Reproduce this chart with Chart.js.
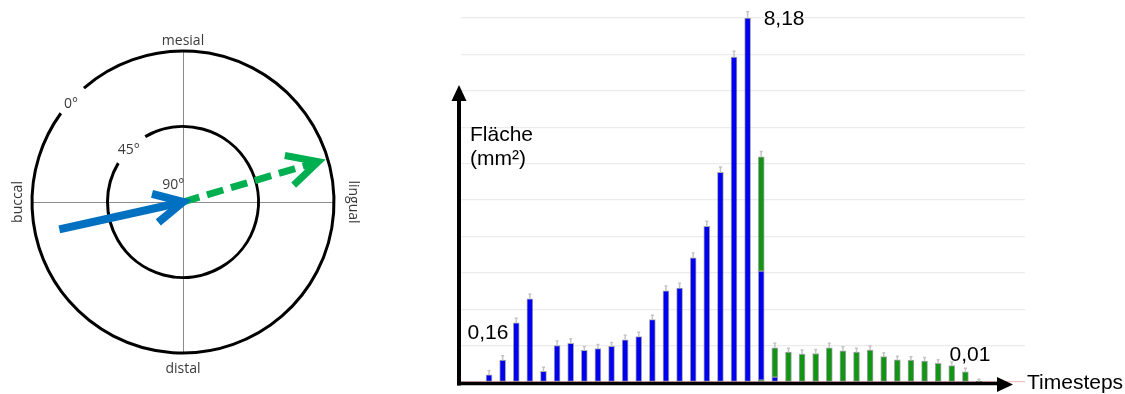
<!DOCTYPE html>
<html>
<head>
<meta charset="utf-8">
<script src="https://cdn.jsdelivr.net/npm/chart.js@4.4.1/dist/chart.umd.min.js"></script>
<style>
  html, body { margin: 0; padding: 0; background: #fff; }
  body { width: 1125px; height: 394px; position: relative; overflow: hidden; }
  #dial { position: absolute; left: 0; top: 0; }
  #area { position: absolute; left: 440px; top: 0; }
</style>
</head>
<body>
<canvas id="dial" width="380" height="394"></canvas>
<canvas id="area" width="685" height="394"></canvas>
<script>
// ---- contact area per timestep (mm²) ----
const timesteps     = [1, 2, 3, 4, 5, 6, 7, 8, 9, 10, 11, 12, 13, 14, 15, 16, 17, 18, 19, 20,
                       21, 22, 23, 24, 25, 26, 27, 28, 29, 30, 31, 32, 33, 34, 35, 36, 37];
const buccalArea    = [0.16, 0.49, 1.33, 1.87, 0.24, 0.82, 0.87, 0.71, 0.75, 0.80, 0.95, 1.02, 1.40, 2.05, 2.11, 2.79, 3.50, 4.71, 7.30, 8.18,
                       2.45, 0.11, 0, 0, 0, 0, 0, 0, 0, 0, 0, 0, 0, 0, 0, 0, 0];
const lingualBase   = [0, 0, 0, 0, 0, 0, 0, 0, 0, 0, 0, 0, 0, 0, 0, 0, 0, 0, 0, 0,
                       0.04, 0, 0, 0, 0, 0, 0, 0, 0, 0, 0, 0, 0, 0, 0, 0, 0];
const lingualArea   = [0, 0, 0, 0, 0, 0, 0, 0, 0, 0, 0, 0, 0, 0, 0, 0, 0, 0, 0, 0,
                       2.57, 0.66, 0.67, 0.63, 0.64, 0.77, 0.70, 0.67, 0.72, 0.57, 0.50, 0.49, 0.47, 0.42, 0.37, 0.23, 0.01];
const spread        = [0.10, 0.10, 0.10, 0.10, 0.09, 0.10, 0.10, 0.09, 0.09, 0.09, 0.10, 0.10, 0.10, 0.11, 0.11, 0.11, 0.11, 0.12, 0.13, 0.14,
                       0.12, 0.10, 0.09, 0.09, 0.09, 0.10, 0.09, 0.09, 0.09, 0.09, 0.08, 0.08, 0.08, 0.08, 0.08, 0.08, 0.05];
const labelledSteps = [1, 20, 37];
const yAxisTitle    = ['Fläche', '(mm²)'];
const xAxisTitle    = 'Timesteps';

// ---- loading direction dial ----
const buccalArrow    = [[-0.819, -0.181], [0, 0]];
const lingualArrow   = [[0, 0], [0.896, 0.267]];
const ringRadii      = [1, 0.5];
const ringGapsDeg    = [[216, 229], [211, 240]];
const angleTexts     = ['0°', '45°', '90°'];
const directionTexts = ['mesial', 'distal', 'buccal', 'lingual'];

const BLUE = '#0000f0';
const GREEN = '#129512';
const TEXT_FONT = '"Liberation Sans", Arial, sans-serif';
const DIAL_FONT = '"Open Sans", "DejaVu Sans", sans-serif';

// ================= bar chart =================
const stackTotal = i => (lingualBase[i] || 0) + (buccalArea[i] || 0) + (lingualArea[i] || 0);
const toPoints = arr => timesteps.map((t, i) => ({ x: t, y: arr[i] ? arr[i] : null }));
const fmt = v => v.toFixed(2).replace('.', ',');

const whiskerPlugin = {
  id: 'whiskers',
  afterDatasetsDraw(chart) {
    const { ctx, scales: { x, y } } = chart;
    ctx.save();
    ctx.strokeStyle = '#c4c4c4';
    ctx.lineWidth = 1.5;
    timesteps.forEach((t, i) => {
      const tot = stackTotal(i);
      const px = x.getPixelForValue(t);
      const y0 = y.getPixelForValue(tot);
      const y1 = y.getPixelForValue(tot + spread[i]);
      ctx.beginPath();
      ctx.moveTo(px, y0);
      ctx.lineTo(px, y1);
      ctx.moveTo(px - 1.5, y1);
      ctx.lineTo(px + 1.5, y1);
      ctx.stroke();
    });
    ctx.restore();
  }
};

const axesPlugin = {
  id: 'arrowAxes',
  afterDraw(chart) {
    const { ctx, chartArea: a, scales: { x, y } } = chart;
    ctx.save();
    ctx.fillStyle = '#000';
    ctx.strokeStyle = '#000';
    // vertical axis with arrow
    const ax = a.left - 2;
    ctx.lineWidth = 4;
    ctx.beginPath();
    ctx.moveTo(ax, a.bottom + 3.5);
    ctx.lineTo(ax, 99);
    ctx.stroke();
    ctx.beginPath();
    ctx.moveTo(ax, 85);
    ctx.lineTo(ax - 7.5, 101);
    ctx.lineTo(ax + 7.5, 101);
    ctx.closePath();
    ctx.fill();
    // horizontal axis with arrow
    const ay = a.bottom + 1.5;
    ctx.lineWidth = 3.5;
    ctx.beginPath();
    ctx.moveTo(ax - 2, ay);
    ctx.lineTo(558, ay);
    ctx.stroke();
    ctx.beginPath();
    ctx.moveTo(573, ay + 1);
    ctx.lineTo(557, ay - 6.5);
    ctx.lineTo(557, ay + 8.5);
    ctx.closePath();
    ctx.fill();

    // titles
    ctx.font = '21px ' + TEXT_FONT;
    ctx.textAlign = 'left';
    ctx.textBaseline = 'alphabetic';
    ctx.fillText(yAxisTitle[0], a.left + 9, 141);
    ctx.fillText(yAxisTitle[1], a.left + 9, 165);
    ctx.fillText(xAxisTitle, 587, 389);

    // value annotations
    const place = { 1: [-1, -42, 'center'], 20: [16, 1, 'left'], 37: [-9, -26, 'center'] };
    ctx.textBaseline = 'middle';
    labelledSteps.forEach(step => {
      const i = timesteps.indexOf(step);
      const v = stackTotal(i);
      const [dx, dy, al] = place[step];
      ctx.textAlign = al;
      ctx.fillText(fmt(v), x.getPixelForValue(step) + dx, y.getPixelForValue(v) + dy);
    });
    ctx.restore();
  }
};

new Chart(document.getElementById('area'), {
  type: 'bar',
  data: {
    datasets: [
      { label: 'lingual (Basis)', data: toPoints(lingualBase), backgroundColor: GREEN },
      { label: 'buccal', data: toPoints(buccalArea), backgroundColor: BLUE },
      { label: 'lingual', data: toPoints(lingualArea), backgroundColor: GREEN }
    ]
  },
  options: {
    responsive: false,
    devicePixelRatio: 1,
    animation: false,
    layout: { padding: { left: 21, right: 100, top: 18, bottom: 12 } },
    plugins: { legend: { display: false }, tooltip: { enabled: false } },
    datasets: {
      bar: {
        barThickness: 6,
        borderWidth: 1,
        borderColor: 'rgba(60,60,80,0.45)',
        borderSkipped: false
      }
    },
    scales: {
      x: { type: 'linear', min: -1.06, max: 40.38, offset: false, stacked: true, display: false },
      y: {
        stacked: true,
        min: 0,
        max: 8.18,
        afterBuildTicks: s => { s.ticks = Array.from({ length: 11 }, (_, k) => ({ value: k * 0.818 })); },
        ticks: { display: false },
        grid: {
          drawTicks: false,
          lineWidth: 1.2,
          color: c => (c.tick && c.tick.value === 0) ? '#f2c2c2' : '#ececec'
        },
        border: { display: false }
      }
    }
  },
  plugins: [whiskerPlugin, axesPlugin]
});

// ================= direction dial =================
const ringsPlugin = {
  id: 'rings',
  beforeDatasetsDraw(chart) {
    const { ctx, scales: { x, y } } = chart;
    const cx = x.getPixelForValue(0), cy = y.getPixelForValue(0);
    ctx.save();
    ctx.strokeStyle = '#000';
    ctx.lineWidth = 3;
    ringRadii.forEach((r, k) => {
      const rp = x.getPixelForValue(r) - cx;
      const [g0, g1] = ringGapsDeg[k];
      ctx.beginPath();
      ctx.arc(cx, cy, rp, g1 * Math.PI / 180, g0 * Math.PI / 180);
      ctx.stroke();
    });
    ctx.restore();
  }
};

const headsPlugin = {
  id: 'arrowHeads',
  afterDatasetsDraw(chart) {
    const { ctx } = chart;
    ctx.save();
    chart.data.datasets.forEach((ds, di) => {
      const pts = chart.getDatasetMeta(di).data;
      const a = pts[pts.length - 2], b = pts[pts.length - 1];
      const ang = Math.atan2(b.y - a.y, b.x - a.x);
      const len = ds.headLength, spreadA = 27 * Math.PI / 180;
      ctx.strokeStyle = ds.borderColor;
      ctx.lineWidth = ds.borderWidth;
      ctx.lineJoin = 'miter';
      ctx.lineCap = 'butt';
      ctx.setLineDash([]);
      ctx.beginPath();
      ctx.moveTo(b.x - len * Math.cos(ang - spreadA), b.y - len * Math.sin(ang - spreadA));
      ctx.lineTo(b.x, b.y);
      ctx.lineTo(b.x - len * Math.cos(ang + spreadA), b.y - len * Math.sin(ang + spreadA));
      ctx.stroke();
    });
    ctx.restore();
  }
};

const dialTextPlugin = {
  id: 'dialText',
  afterDraw(chart) {
    const { ctx, chartArea: a, scales: { x, y } } = chart;
    const cx = x.getPixelForValue(0), cy = y.getPixelForValue(0);
    ctx.save();
    ctx.fillStyle = '#3a3a3a';
    ctx.font = '14px ' + DIAL_FONT;
    ctx.textAlign = 'center';
    ctx.textBaseline = 'alphabetic';
    ctx.fillText(directionTexts[0], cx, a.top - 6);
    ctx.fillText(directionTexts[1], cx, a.bottom + 19.5);
    ctx.save();
    ctx.translate(a.left - 10.5, cy);
    ctx.rotate(-Math.PI / 2);
    ctx.fillText(directionTexts[2], 0, 0);
    ctx.restore();
    ctx.save();
    ctx.translate(a.right + 14.7, cy);
    ctx.rotate(Math.PI / 2);
    ctx.fillText(directionTexts[3], 0, 0);
    ctx.restore();
    // angle marks next to the ring openings
    const spots = [[-0.742, 0.623], [-0.359, 0.318], [-0.064, 0.086]];
    angleTexts.forEach((t, k) => {
      ctx.fillText(t, x.getPixelForValue(spots[k][0]), y.getPixelForValue(spots[k][1]));
    });
    ctx.restore();
  }
};

const crossGrid = {
  drawTicks: false,
  lineWidth: 1,
  color: c => (c.tick && c.tick.value === 0) ? '#8c8c8c' : 'rgba(0,0,0,0)'
};

new Chart(document.getElementById('dial'), {
  type: 'scatter',
  data: {
    datasets: [
      {
        label: 'buccal',
        data: buccalArrow.map(([px, py]) => ({ x: px, y: py })),
        showLine: true, borderColor: '#0070C0', borderWidth: 8, pointRadius: 0,
        borderCapStyle: 'butt', headLength: 32
      },
      {
        label: 'lingual',
        data: lingualArrow.map(([px, py]) => ({ x: px, y: py })),
        showLine: true, borderColor: '#00B050', borderWidth: 7, pointRadius: 0,
        borderDash: [17, 8], borderCapStyle: 'butt', headLength: 34
      }
    ]
  },
  options: {
    responsive: false,
    devicePixelRatio: 1,
    animation: false,
    layout: { padding: { left: 32, right: 46, top: 51, bottom: 41 } },
    plugins: { legend: { display: false }, tooltip: { enabled: false } },
    scales: {
      x: { min: -1, max: 1, ticks: { display: false, stepSize: 0.5 }, grid: crossGrid, border: { display: false } },
      y: { min: -1, max: 1, ticks: { display: false, stepSize: 0.5 }, grid: crossGrid, border: { display: false } }
    }
  },
  plugins: [ringsPlugin, headsPlugin, dialTextPlugin]
});
</script>
</body>
</html>
